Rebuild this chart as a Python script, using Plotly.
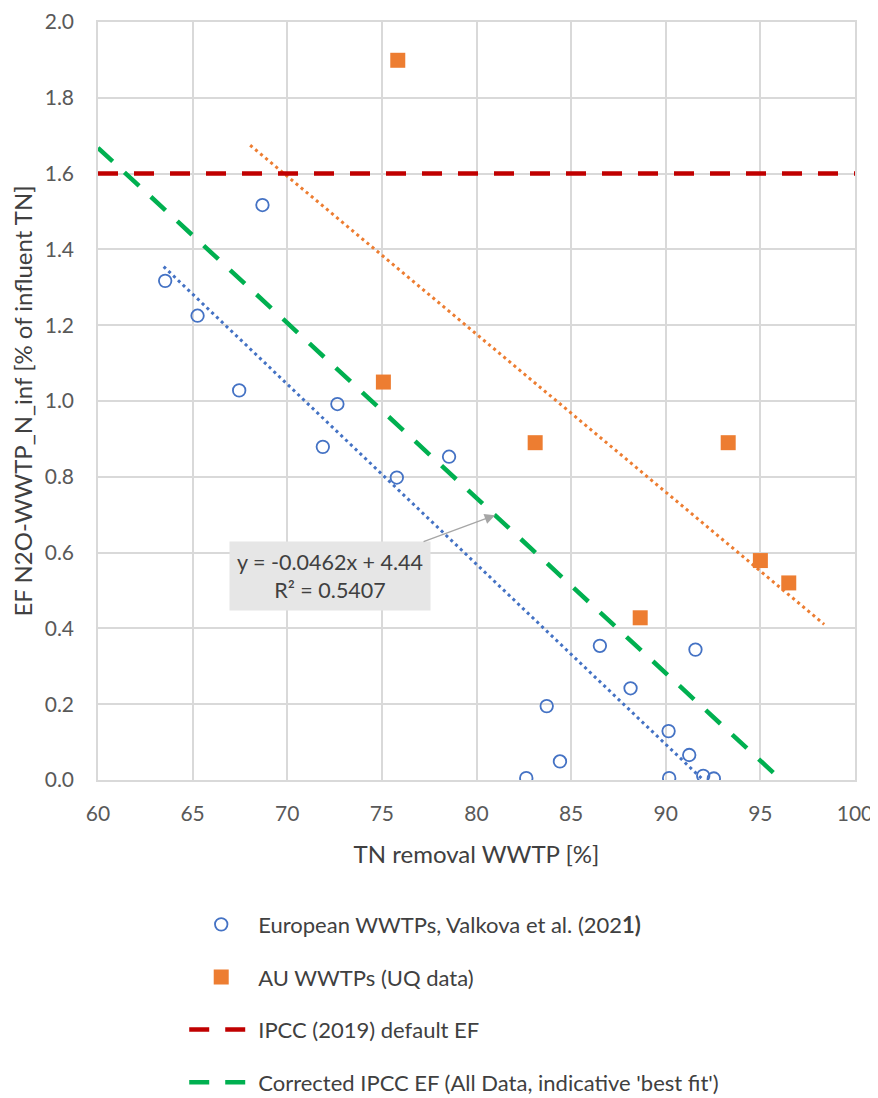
import numpy as np
import plotly.graph_objects as go

# ---- data ----
eu_x = [63.55, 65.26, 67.46, 68.69, 72.65, 71.88, 75.79, 78.55, 86.52, 91.57,
        88.14, 83.71, 90.15, 91.24, 84.41, 82.63, 90.18, 91.98, 92.54]
eu_y = [1.317, 1.225, 1.028, 1.517, 0.992, 0.879, 0.798, 0.853, 0.354, 0.344,
        0.242, 0.195, 0.129, 0.066, 0.049, 0.005, 0.005, 0.011, 0.004]
au_x = [75.84, 75.08, 83.10, 93.30, 95.00, 96.50, 88.65]
au_y = [1.899, 1.050, 0.890, 0.890, 0.579, 0.520, 0.428]

ipcc_ef = 1.6
ipcc_x = [60, 100]

corr_slope = -0.0462
corr_intercept = 4.44
corr_r2 = 0.5407
corr_x = [60, 96]

eu_trend_x = [63.47, 91.97]
au_trend_x = [68.04, 98.37]

arrow_x = 80.98          # where the label's arrow touches the corrected line
label_center = [72.27, 0.538]

x_ticks = [60, 65, 70, 75, 80, 85, 90, 95, 100]
y_ticks = [0.0, 0.2, 0.4, 0.6, 0.8, 1.0, 1.2, 1.4, 1.6, 1.8, 2.0]

names = ["European WWTPs, Valkova et al. (202<b>1)</b>",
         "AU WWTPs (UQ data)",
         "IPCC (2019) default EF",
         "Corrected IPCC EF (All Data, indicative 'best fit')"]

# ---- derived lines ----
eu_fit = np.polyfit(eu_x, eu_y, 1)
au_fit = np.polyfit(au_x, au_y, 1)
eu_trend_y = list(np.polyval(eu_fit, eu_trend_x))
au_trend_y = list(np.polyval(au_fit, au_trend_x))
corr_y = [corr_slope * v + corr_intercept for v in corr_x]
ipcc_y = [ipcc_ef for _ in ipcc_x]
arrow_y = corr_slope * arrow_x + corr_intercept

BLUE = "#4472C4"
ORANGE = "#ED7D31"
RED = "#C00000"
GREEN = "#00B050"
FONT = "Lato"

fig = go.Figure()

# trendlines (not in legend)
fig.add_trace(go.Scatter(x=eu_trend_x, y=eu_trend_y, mode="lines",
                         line=dict(color=BLUE, width=3, dash="3px,3.6px"),
                         showlegend=False, hoverinfo="skip"))
fig.add_trace(go.Scatter(x=au_trend_x, y=au_trend_y, mode="lines",
                         line=dict(color=ORANGE, width=3, dash="3px,3.6px"),
                         showlegend=False, hoverinfo="skip"))

fig.add_trace(go.Scatter(x=ipcc_x, y=ipcc_y, mode="lines", name=names[2],
                         legendgroup="c", legendrank=3,
                         line=dict(color=RED, width=4.5, dash="20px,16px")))
fig.add_trace(go.Scatter(x=corr_x, y=corr_y, mode="lines", name=names[3],
                         legendgroup="d", legendrank=4,
                         line=dict(color=GREEN, width=4.5, dash="20px,16px")))

fig.add_trace(go.Scatter(x=eu_x, y=eu_y, mode="markers", name=names[0],
                         legendgroup="a", legendrank=1,
                         marker=dict(symbol="circle-open", size=12.5, color=BLUE,
                                     line=dict(color=BLUE, width=1.8))))
fig.add_trace(go.Scatter(x=au_x, y=au_y, mode="markers", name=names[1],
                         legendgroup="b", legendrank=2,
                         marker=dict(symbol="square", size=15, color=ORANGE)))

fig.add_annotation(x=arrow_x, y=arrow_y, ax=label_center[0], ay=label_center[1],
                   axref="x", ayref="y", xref="x", yref="y",
                   text=f"y = {corr_slope}x + {corr_intercept}<br>R² = {corr_r2}",
                   showarrow=True, arrowhead=2, arrowsize=1.6, arrowwidth=1.3,
                   arrowcolor="#A6A6A6", bgcolor="#E6E6E6", width=188, height=56,
                   borderpad=6, font=dict(family=FONT, size=21.5, color="#404040"),
                   align="center")

axis_common = dict(showgrid=True, gridcolor="#D9D9D9", gridwidth=1.5,
                   showline=True, linecolor="#D9D9D9", linewidth=1.5, mirror=True,
                   zeroline=False, ticks="", automargin=False,
                   ticklabeloverflow="allow",
                   tickfont=dict(family=FONT, size=21, color="#595959"))

fig.update_xaxes(range=[60, 100], tickvals=x_ticks,
                 title=dict(text="TN removal WWTP [%]", standoff=22,
                            font=dict(family=FONT, size=24, color="#404040")),
                 ticklabelstandoff=14, **axis_common)
fig.update_yaxes(range=[0, 2.0], tickvals=y_ticks, tickformat=".1f",
                 title=dict(text="EF N2O-WWTP_N_inf [% of influent TN]", standoff=21,
                            font=dict(family=FONT, size=24, color="#404040")),
                 ticklabelstandoff=18, **axis_common)

fig.update_layout(width=870, height=1090,
                  margin=dict(l=89.7, r=22.5, t=13.5, b=317.7, autoexpand=False),
                  plot_bgcolor="white", paper_bgcolor="white",
                  font=dict(family=FONT, size=21, color="#404040"),
                  legend=dict(orientation="v", x=0.1139, xanchor="left",
                              y=-0.163, yanchor="top", tracegroupgap=21,
                              itemwidth=64, font=dict(family=FONT, size=22, color="#404040")))

fig.write_html("out.html")
